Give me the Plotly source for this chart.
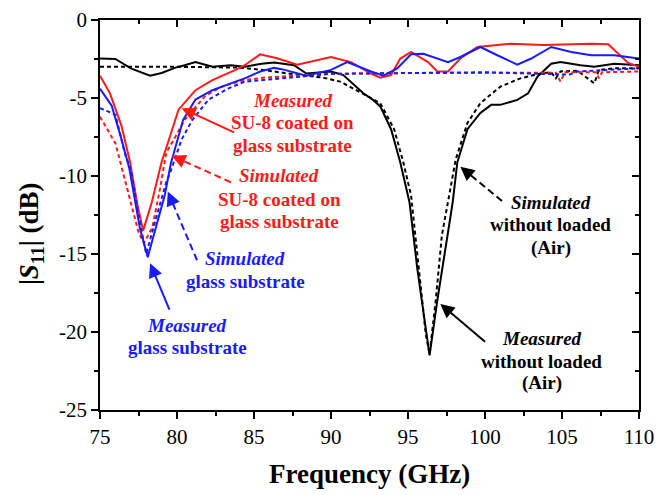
import plotly.graph_objects as go

# ---------------- data ----------------
f_meas_air = [75, 76, 77, 78.25, 79, 79.9, 80.5, 81.2, 82.3, 83.5, 84.4, 85.5, 86.3, 87.6, 88.4, 89.2, 90.0,
              90.8, 91.5, 92.1, 92.7, 93.2, 93.9, 94.5, 95.1, 95.6, 96.2, 96.4, 96.9, 97.4, 97.9, 98.2, 98.86,
              99.7, 100.4, 101.0, 102.1, 102.8, 103.4, 104.3, 104.9, 106.2, 107.1, 108.4, 110]
s_meas_air = [-2.47, -2.5, -3.1, -3.57, -3.4, -3.05, -2.9, -2.69, -3.0, -2.9, -3.0, -2.8, -2.73, -2.9, -3.43,
              -3.35, -3.3, -3.53, -4.17, -4.7, -5.1, -5.54, -7.0, -9.14, -11.7, -15.9, -20.1, -21.5, -18.0,
              -14.85, -11.7, -9.14, -7.0, -5.96, -5.44, -5.44, -5.12, -4.7, -3.64, -2.8, -2.69, -2.9, -3.0,
              -2.8, -2.9]

f_sim_air = [75, 80, 84, 85.6, 87, 88.4, 89.5, 90.6, 91.7, 92.4, 93.2, 94.1, 94.7, 95.2, 95.7, 96.15, 96.4,
             96.8, 97.2, 97.66, 98.1, 98.86, 99.7, 101.0, 102.3, 103.6, 104.3, 104.6, 104.9, 106.0, 107.1,
             107.4, 108.4, 110]
s_sim_air = [-3.0, -3.0, -3.05, -3.2, -3.4, -3.57, -3.7, -3.95, -4.5, -4.9, -5.33, -7.0, -9.14, -11.25, -15.9,
             -20.1, -21.4, -18.0, -13.8, -11.25, -8.93, -6.6, -5.33, -4.27, -3.74, -3.43, -3.35, -3.74, -3.3,
             -3.25, -4.06, -3.2, -3.1, -3.1]

f_meas_su8 = [75, 75.65, 76.4, 76.95, 77.4, 77.8, 78.36, 79.0, 79.4, 80.1, 81.2, 82.3, 83.8, 84.4, 85.4, 86.5,
              87.8, 89.0, 90.0, 91.3, 92.6, 93.2, 93.9, 94.5, 95.2, 96.3, 96.9, 97.6, 98.4, 99.5, 101.7, 103.8,
              106.9, 108.0, 108.8, 109.3, 110]
s_meas_su8 = [-3.57, -4.7, -6.8, -9.1, -11.7, -13.5, -11.7, -9.1, -7.9, -5.75, -4.5, -3.85, -3.2, -2.9, -2.2,
              -2.45, -2.86, -2.6, -2.37, -2.7, -3.43, -3.7, -3.53, -2.47, -2.05, -2.7, -3.3, -3.3, -2.47, -1.73,
              -1.52, -1.6, -1.52, -1.56, -2.26, -2.75, -3.0]

f_sim_su8 = [75, 76.0, 76.5, 77.0, 77.5, 77.85, 78.4, 78.9, 79.3, 79.8, 80.5, 81.8, 82.9, 84.4, 85.6, 87.8, 90,
             95, 100, 104.6, 104.9, 105.2, 107.2, 107.4, 107.6, 110]
s_sim_su8 = [-6.2, -7.9, -9.8, -11.8, -13.6, -14.3, -13.3, -10.8, -8.5, -7.66, -6.4, -4.9, -4.27, -3.85, -3.7,
             -3.55, -3.45, -3.4, -3.38, -3.38, -3.95, -3.35, -3.35, -3.74, -3.35, -3.3]

f_meas_glass = [75, 75.76, 76.4, 76.9, 77.6, 78.1, 78.6, 79.2, 79.6, 80.0, 80.4, 81.2, 82.3, 83.8, 84.4, 85.4,
                86.3, 86.8, 88.4, 90.0, 91.05, 92.6, 93.4, 94.3, 95.2, 96.0, 97.6, 98.4, 99.7, 100.8, 102.1,
                103.0, 104.3, 105.6, 106.9, 108.4, 110]
s_meas_glass = [-4.4, -5.5, -7.66, -9.5, -13.4, -15.2, -13.4, -11.25, -9.2, -7.87, -6.4, -5.1, -4.5, -3.95,
                -3.74, -3.3, -3.07, -3.15, -3.57, -3.2, -2.7, -3.3, -3.57, -3.1, -2.2, -2.16, -2.7, -2.37, -1.73,
                -2.26, -2.86, -2.47, -1.73, -2.05, -2.26, -2.26, -2.47]

f_sim_glass = [75, 76, 76.6, 77.06, 77.5, 78.0, 78.5, 79.3, 79.55, 80.3, 81.0, 82.05, 83.35, 84.4, 85.6, 87.8,
               90, 95, 100, 105.5, 106, 110]
s_sim_glass = [-5.65, -6.07, -8.5, -9.8, -12.5, -15.0, -13.2, -10.4, -9.8, -7.66, -6.4, -5.1, -4.38, -3.95,
               -3.85, -3.64, -3.45, -3.4, -3.35, -3.5, -3.3, -3.1]

x_ticks = [75, 80, 85, 90, 95, 100, 105, 110]
y_ticks = [0, -5, -10, -15, -20, -25]

RED = "#ff1a1a"
BLUE = "#1a1aff"
BLACK = "#000000"
FONT = "Times New Roman, Liberation Serif, serif"

fig = go.Figure()

series = [
    (f_sim_air, s_sim_air, BLACK, "4px,3px", "Simulated (Air)"),
    (f_meas_air, s_meas_air, BLACK, "solid", "Measured (Air)"),
    (f_sim_su8, s_sim_su8, RED, "4px,3px", "Simulated SU-8"),
    (f_meas_su8, s_meas_su8, RED, "solid", "Measured SU-8"),
    (f_sim_glass, s_sim_glass, BLUE, "4px,3px", "Simulated glass"),
    (f_meas_glass, s_meas_glass, BLUE, "solid", "Measured glass"),
]
for fx, sy, col, dash, name in series:
    fig.add_trace(go.Scatter(x=fx, y=sy, mode="lines", name=name,
                             line=dict(color=col, width=2, dash=dash), showlegend=False))

# dummy trace to activate mirrored (inside-tick) axes
fig.add_trace(go.Scatter(x=[], y=[], xaxis="x2", yaxis="y2", showlegend=False, hoverinfo="skip"))

# ---------------- arrows ----------------
arrows = [  # head, tail, colour, dashed
    ((80.3, -5.65), (83.8, -7.25), RED, False),
    ((79.65, -8.7), (83.5, -10.4), RED, True),
    ((79.4, -11.0), (81.3, -15.4), BLUE, True),
    ((78.25, -15.6), (79.55, -18.66), BLUE, False),
    ((98.4, -9.4), (101.1, -11.6), BLACK, True),
    ((97.1, -18.2), (100.1, -20.7), BLACK, False),
]
for (hx, hy), (tx, ty), col, dashed in arrows:
    if dashed:
        fig.add_shape(type="line", x0=tx, y0=ty, x1=hx + 0.15 * (tx - hx), y1=hy + 0.15 * (ty - hy),
                      xref="x", yref="y", line=dict(color=col, width=2, dash="7px,4px"))
        ax, ay = hx + 0.22 * (tx - hx), hy + 0.22 * (ty - hy)
    else:
        ax, ay = tx, ty
    fig.add_annotation(x=hx, y=hy, ax=ax, ay=ay, xref="x", yref="y", axref="x", ayref="y",
                       text="", showarrow=True, arrowhead=2, arrowsize=1.4, arrowwidth=2, arrowcolor=col)

# ---------------- text labels (one per line) ----------------
labels = [
    (87.5, [-5.14, -6.6, -8.06], ["<i>Measured</i>", "SU-8 coated on", "glass substrate"], RED),
    (86.65, [-9.96, -11.48, -12.94], ["<i>Simulated</i>", "SU-8 coated on", "glass substrate"], RED),
    (84.43, [-15.29, -16.75], ["<i>Simulated</i>", "glass substrate"], BLUE),
    (80.66, [-19.6, -21.0], ["<i>Measured</i>", "glass substrate"], BLUE),
    (104.28, [-11.72, -13.12, -14.6], ["<i>Simulated</i>", "without loaded", "(Air)"], BLACK),
    (103.69, [-20.43, -21.87, -23.29], ["<i>Measured</i>", "without loaded", "(Air)"], BLACK),
]
for xc, ys, texts, col in labels:
    for yv, t in zip(ys, texts):
        fig.add_annotation(x=xc, y=yv, xref="x", yref="y", text=t, showarrow=False,
                           xanchor="center", yanchor="middle",
                           font=dict(family=FONT, size=19, color=col, weight="bold"))

# axis titles
fig.add_annotation(x=0.5, y=-0.164, xref="paper", yref="paper", text="Frequency (GHz)", showarrow=False,
                   xanchor="center", yanchor="middle",
                   font=dict(family=FONT, size=27, color="black", weight="bold"))
fig.add_annotation(x=-0.128, y=0.451, xref="paper", yref="paper", text="|<i>S</i><sub>11</sub>| (dB)",
                   showarrow=False, textangle=-90, xanchor="center", yanchor="middle",
                   font=dict(family=FONT, size=27, color="black", weight="bold"))

axis_common = dict(showgrid=False, zeroline=False, showline=True, linecolor="black", linewidth=1.5,
                   tickcolor="black", tickwidth=1.5, ticklen=7, automargin=False,
                   ticklabeloverflow="allow",
                   tickfont=dict(family=FONT, size=21, color="black"))

# the page body adds an 8px offset; size/margins compensate so the plot box lands at (100..639, 20..410)
fig.update_layout(
    width=659, height=487,
    margin=dict(l=92, r=28, t=12, b=85),
    paper_bgcolor="white", plot_bgcolor="white",
    font=dict(family=FONT),
    xaxis=dict(range=[75, 110], tickvals=x_ticks, ticktext=[str(v) for v in x_ticks], ticks="outside",
               minor=dict(ticks="outside", dtick=2.5, tick0=75, ticklen=4, tickcolor="black", tickwidth=1.5),
               **axis_common),
    yaxis=dict(range=[-25, 0], tickvals=y_ticks, ticktext=[str(v) for v in y_ticks], ticks="outside",
               minor=dict(ticks="outside", dtick=2.5, tick0=0, ticklen=4, tickcolor="black", tickwidth=1.5),
               **axis_common),
    xaxis2=dict(range=[75, 110], overlaying="x", side="top", anchor="y2", tickvals=x_ticks,
                showticklabels=False, ticks="inside",
                minor=dict(ticks="inside", dtick=2.5, tick0=75, ticklen=4, tickcolor="black", tickwidth=1.5),
                **axis_common),
    yaxis2=dict(range=[-25, 0], overlaying="y", side="right", anchor="x2", tickvals=y_ticks,
                showticklabels=False, ticks="inside",
                minor=dict(ticks="inside", dtick=2.5, tick0=0, ticklen=4, tickcolor="black", tickwidth=1.5),
                **axis_common),
)

fig.write_html("out.html")
